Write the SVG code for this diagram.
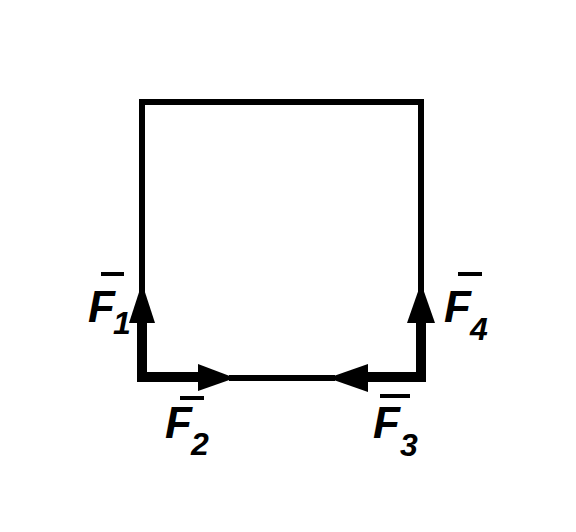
<svg xmlns="http://www.w3.org/2000/svg" width="576" height="532" viewBox="0 0 576 532">
<style>
.thin{fill:none;stroke:#000;stroke-width:6;stroke-linejoin:miter;stroke-linecap:square}
.thick{fill:none;stroke:#000;stroke-width:10;stroke-linejoin:miter;stroke-linecap:square}
.head{fill:#000}
.lbl{font-family:"Liberation Sans",Arial,sans-serif;font-style:italic;font-weight:bold;font-size:44px;fill:#000}
.sub{font-family:"Liberation Sans",Arial,sans-serif;font-style:italic;font-weight:bold;font-size:32px;fill:#000}
.bar{stroke:#000;stroke-width:4}
</style>
<rect width="576" height="532" fill="#fff"/>
<g id="frame">
<path class="thin" d="M142,322 V102 H421 V322"/>
<path class="thin" d="M232,378 H332"/>
</g>
<g id="connectors">
<g id="F1-arrow"><path class="thick" d="M142,322 V377"/><polygon class="head" points="142,283 129,323 155,323"/></g>
<g id="F2-arrow"><path class="thick" d="M142,377 H199"/><polygon class="head" points="235,378 198,364 198,391"/></g>
<g id="F3-arrow"><path class="thick" d="M368,377 H421"/><polygon class="head" points="328,378 368,364 368,392"/></g>
<g id="F4-arrow"><path class="thick" d="M421,322 V377"/><polygon class="head" points="421,283 407,323 435,323"/></g>
</g>
<g id="label-F1"><line class="bar" x1="101" y1="274" x2="124" y2="274"/><text class="lbl" x="88" y="322">F</text><text class="sub" x="113" y="334">1</text></g>
<g id="label-F2"><line class="bar" x1="180" y1="398" x2="204" y2="398"/><text class="lbl" x="165" y="438">F</text><text class="sub" x="191" y="455">2</text></g>
<g id="label-F3"><line class="bar" x1="380" y1="396" x2="410" y2="396"/><text class="lbl" x="373" y="438">F</text><text class="sub" x="400" y="456">3</text></g>
<g id="label-F4"><line class="bar" x1="458" y1="274" x2="482" y2="274"/><text class="lbl" x="444" y="322">F</text><text class="sub" x="470" y="340">4</text></g>
</svg>
